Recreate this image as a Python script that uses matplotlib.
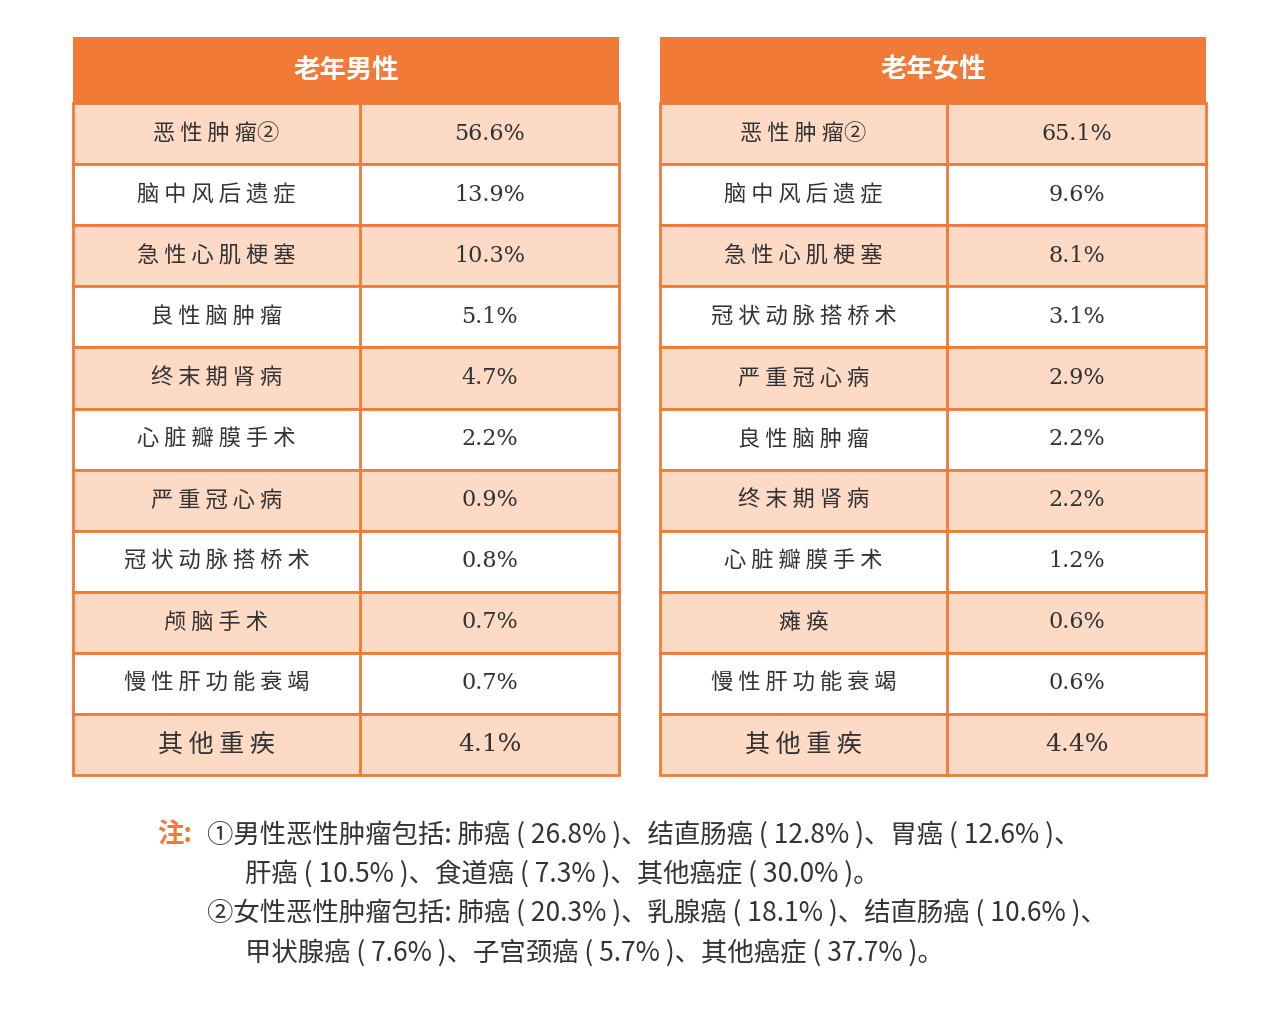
import matplotlib
matplotlib.use("Agg")
import matplotlib.pyplot as plt
from matplotlib.patches import Rectangle
from matplotlib import font_manager

names_avail = {f.name for f in font_manager.fontManager.ttflist}
cjk = [n for n in ["Noto Sans CJK SC", "Noto Sans CJK JP", "Noto Sans CJK TC", "Noto Sans CJK KR"] if n in names_avail]
if not cjk:
    for f in font_manager.findSystemFonts():
        if "CJK" in f or "cjk" in f:
            font_manager.fontManager.addfont(f)
    names_avail = {f.name for f in font_manager.fontManager.ttflist}
    cjk = [n for n in names_avail if "CJK" in n]
plt.rcParams["font.family"] = cjk + ["DejaVu Sans"]

male_title = "老年男性"
male_diseases = ["恶性肿瘤②", "脑中风后遗症", "急性心肌梗塞", "良性脑肿瘤", "终末期肾病", "心脏瓣膜手术",
                 "严重冠心病", "冠状动脉搭桥术", "颅脑手术", "慢性肝功能衰竭", "其他重疾"]
male_values = [56.6, 13.9, 10.3, 5.1, 4.7, 2.2, 0.9, 0.8, 0.7, 0.7, 4.1]
female_title = "老年女性"
female_diseases = ["恶性肿瘤②", "脑中风后遗症", "急性心肌梗塞", "冠状动脉搭桥术", "严重冠心病", "良性脑肿瘤",
                   "终末期肾病", "心脏瓣膜手术", "瘫痪", "慢性肝功能衰竭", "其他重疾"]
female_values = [65.1, 9.6, 8.1, 3.1, 2.9, 2.2, 2.2, 1.2, 0.6, 0.6, 4.4]
notes = [
    ("注:", "①男性恶性肿瘤包括: 肺癌 ( 26.8% )、结直肠癌 ( 12.8% )、胃癌 ( 12.6% )、"),
    ("", "肝癌 ( 10.5% )、食道癌 ( 7.3% )、其他癌症 ( 30.0% )。"),
    ("", "②女性恶性肿瘤包括: 肺癌 ( 20.3% )、乳腺癌 ( 18.1% )、结直肠癌 ( 10.6% )、"),
    ("", "甲状腺癌 ( 7.6% )、子宫颈癌 ( 5.7% )、其他癌症 ( 37.7% )。"),
]

ORANGE = "#F07A36"
LIGHT = "#FCDAC6"
TEXT = "#333333"

fig = plt.figure(figsize=(12.66, 10.10), dpi=100)
ax = fig.add_axes([0, 0, 1, 1])
ax.set_xlim(0, 1266); ax.set_ylim(1010, 0); ax.axis("off")

def table(x0, title, names, vals):
    w = 546; split = 287; top = 37; hh = 66; rh = 61.1
    ax.add_patch(Rectangle((x0, top), w, hh, color=ORANGE, lw=0))
    ax.text(x0 + w/2, top + hh/2, title, color="white", fontsize=19, fontweight="bold", ha="center", va="center")
    for i, (n, v) in enumerate(zip(names, vals)):
        y = top + hh + i*rh
        fc = LIGHT if i % 2 == 0 else "white"
        ax.add_patch(Rectangle((x0, y), w, rh, facecolor=fc, edgecolor=ORANGE, lw=2))
        ax.plot([x0+split, x0+split], [y, y+rh], color=ORANGE, lw=2)
        fs = 18 if i == len(names)-1 else 16
        ax.text(x0 + split/2, y + rh/2, " ".join(n.replace("②", "\u0000")).replace("\u0000", "②").replace(" ②", "②"),
                color=TEXT, fontsize=fs, ha="center", va="center")
        ax.text(x0 + split + (w-split)/2, y + rh/2, f"{v:.1f}%", color=TEXT, fontsize=fs,
                ha="center", va="center", family="DejaVu Serif")

table(73, male_title, male_diseases, male_values)
table(660, female_title, female_diseases, female_values)

ys = [835, 874, 913, 953]
xs = [207, 245, 207, 245]
for (p, t), y, x in zip(notes, ys, xs):
    if p:
        ax.text(157, y, p, color=ORANGE, fontsize=19, fontweight="bold", va="center")
    ax.text(x, y, t, color=TEXT, fontsize=19, va="center")

fig.savefig("out.png", dpi=100, facecolor="white")
